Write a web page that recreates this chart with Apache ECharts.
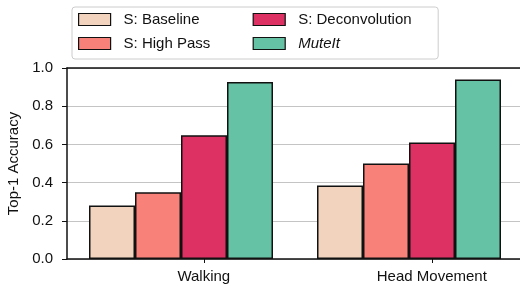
<!DOCTYPE html>
<html>
<head>
<meta charset="utf-8">
<script src="https://cdn.jsdelivr.net/npm/echarts@6/dist/echarts.min.js"></script>
<style>
  html, body { margin: 0; padding: 0; background: #fff; }
  #chart { width: 520px; height: 286px; }
</style>
</head>
<body>
<div id="chart"></div>
<script>
// data
var categories = ['Walking', 'Head Movement'];
var seriesNames = ['S: Baseline', 'S: High Pass', 'S: Deconvolution', 'MuteIt'];
var baseline = [0.28, 0.385];
var highPass = [0.35, 0.50];
var deconv = [0.648, 0.61];
var muteIt = [0.927, 0.94];
var colors = ['#F2D4BE', '#F8827A', '#DE3163', '#66C2A5'];

var FONT = 'Liberation Sans';

// tick labels sit under the third bar of each group, not the group centre
var labelSlots = ['', '', '', '', '', '', '', '', '', '', ''];
labelSlots[3] = categories[0];
labelSlots[8] = categories[1];

function bar(name, data, color) {
  return {
    name: name,
    type: 'bar',
    data: data,
    barWidth: 46,
    barGap: '0%',
    xAxisIndex: 0,
    itemStyle: { color: color, borderColor: '#111', borderWidth: 1.5 }
  };
}

var chart = echarts.init(document.getElementById('chart'));
var isSlot = function (idx, val) { return val !== ''; };

chart.setOption({
  animation: false,
  textStyle: { fontFamily: FONT },
  grid: { left: 67, right: -3, top: 68, bottom: 27, outerBoundsMode: 'none', containLabel: false },
  legend: {
    orient: 'vertical',
    left: 72,
    top: 7,
    height: 44,
    icon: 'rect',
    itemWidth: 32,
    itemHeight: 12,
    itemGap: 7,
    padding: [4, 18, 7, 6],
    borderColor: '#ccc',
    borderWidth: 1,
    borderRadius: 3,
    data: seriesNames,
    itemStyle: { borderColor: '#111', borderWidth: 1.2 },
    formatter: function (n) { return n === 'MuteIt' ? '{i|' + n + '}' : n; },
    textStyle: {
      fontFamily: FONT, fontSize: 15, color: '#111', lineHeight: 17,
      width: 122, padding: [0, 0, 0, 8],
      rich: { i: { fontStyle: 'italic', fontFamily: FONT, fontSize: 15, color: '#111' } }
    }
  },
  xAxis: [
    {
      type: 'category', data: categories, position: 'bottom',
      axisLine: { lineStyle: { color: '#111', width: 1.5 } },
      axisTick: { show: false }, axisLabel: { show: false }
    },
    {
      type: 'category', data: labelSlots, position: 'bottom', boundaryGap: false,
      axisLine: { show: false },
      axisTick: { show: true, interval: isSlot, length: 4, lineStyle: { color: '#111' } },
      axisLabel: { interval: isSlot, fontSize: 15, color: '#111', margin: 10, fontFamily: FONT }
    },
    {
      type: 'category', data: categories, position: 'top',
      axisLine: { lineStyle: { color: '#111', width: 1.5 } },
      axisTick: { show: false }, axisLabel: { show: false }
    }
  ],
  yAxis: {
    type: 'value', min: 0, max: 1, interval: 0.2,
    name: 'Top-1 Accuracy', nameLocation: 'middle', nameGap: 45,
    nameTextStyle: { fontSize: 15, color: '#111', fontFamily: FONT },
    axisLine: { show: true, lineStyle: { color: '#111', width: 1.5 } },
    axisTick: { show: true, length: 5, lineStyle: { color: '#111' } },
    axisLabel: {
      fontSize: 15, color: '#111', margin: 14, fontFamily: FONT,
      formatter: function (v) { return v.toFixed(1); }
    },
    splitLine: { lineStyle: { color: '#c4c4c4', width: 1 } }
  },
  series: [
    bar(seriesNames[0], baseline, colors[0]),
    bar(seriesNames[1], highPass, colors[1]),
    bar(seriesNames[2], deconv, colors[2]),
    bar(seriesNames[3], muteIt, colors[3])
  ]
});
</script>
</body>
</html>
